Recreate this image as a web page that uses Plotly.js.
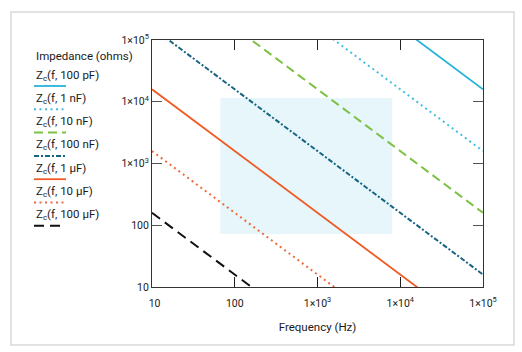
<!DOCTYPE html>
<html><head><meta charset="utf-8">
<script src="https://cdn.plot.ly/plotly-3.0.1.min.js"></script>
<style>html,body{margin:0;padding:0;background:#fff;}#chart{width:522px;height:352px;}</style>
</head><body><div id="chart"></div>
<script>
// Data: impedance at the ends of the frequency span
var freq = [10, 100000];
var seriesNames = ['Z<sub>c</sub>(f, 100 pF)','Z<sub>c</sub>(f, 1 nF)','Z<sub>c</sub>(f, 10 nF)','Z<sub>c</sub>(f, 100 nF)','Z<sub>c</sub>(f, 1 μF)','Z<sub>c</sub>(f, 10 μF)','Z<sub>c</sub>(f, 100 μF)'];
var z100pF = [1.59e8, 15900];
var z1nF = [1.59e7, 1590];
var z10nF = [1.59e6, 159];
var z100nF = [1.59e5, 15.9];
var z1uF = [15900, 1.59];
var z10uF = [1590, 0.159];
var z100uF = [159, 0.0159];
var seriesValues = [z100pF, z1nF, z10nF, z100nF, z1uF, z10uF, z100uF];
var colors = ['#25b3d9','#3fbfe2','#7cc143','#176483','#f05a24','#f26a3a','#111111'];
var dashes = ['solid','2px,3.5px','9px,5px','5px,2px,2px,2px','solid','2px,3.5px','10px,6px'];
var widths = [1.8,2,2,2,1.8,2,2];
// highlighted region
var regionX = [67, 8000];
var regionY = [72, 11500];
var xTickVals = [10,100,1000,10000,100000];
var xTickText = ['  10','100','1×10<sup>3</sup>','1×10<sup>4</sup>','1×10<sup>5</sup>'];
var yTickVals = [10,100,1000,10000,100000];
var yTickText = ['10','100','1×10<sup>3</sup>','1×10<sup>4</sup>','1×10<sup>5</sup>'];

var traces = seriesValues.map(function(v,i){
  return {x:freq, y:v, mode:'lines', name:seriesNames[i], showlegend:false,
    line:{color:colors[i], width:widths[i], dash:dashes[i]}};
});

var shapes = [
  {type:'rect', xref:'paper', yref:'paper', x0:(11-152)/331, x1:(514-152)/331, y0:(287-345)/247, y1:(287-12)/247,
   line:{color:'#d9d9d9', width:1.5}, fillcolor:'rgba(0,0,0,0)', layer:'below'},
  {type:'rect', xref:'x', yref:'y', x0:regionX[0], x1:regionX[1], y0:regionY[0], y1:regionY[1],
   line:{width:0}, fillcolor:'#e6f6fb', layer:'below'}
];
var annotations = [
  {text:'Impedance (ohms)', xref:'paper', yref:'paper', x:(34-152)/331, y:(287-56)/247,
   xanchor:'left', yanchor:'middle', showarrow:false, font:{size:11.5, color:'#1a1a1a'}}
];
var textY0 = 75, lineY0 = 86, step = 23.3;
seriesNames.forEach(function(n,i){
  annotations.push({text:n, xref:'paper', yref:'paper', x:(34-152)/331, y:(287-(textY0+i*step))/247,
    xanchor:'left', yanchor:'middle', showarrow:false, font:{size:11.5, color:'#1a1a1a'}});
  var ly = (287-(lineY0+i*step))/247;
  shapes.push({type:'line', xref:'paper', yref:'paper', x0:(34-152)/331, x1:(66-152)/331, y0:ly, y1:ly,
    line:{color:colors[i], width:widths[i], dash:dashes[i]}});
});

var layout = {
  width:522, height:352, margin:{l:152, r:39, t:40, b:65},
  paper_bgcolor:'#fff', plot_bgcolor:'rgba(0,0,0,0)',
  font:{family:'Roboto, sans-serif', size:10, color:'#1a1a1a'},
  showlegend:false,
  xaxis:{type:'log', range:[1,5], tickvals:xTickVals, ticktext:xTickText, ticks:'inside', ticklen:10,
    tickcolor:'#222', showline:true, linecolor:'#333', linewidth:1, mirror:'ticks', showgrid:false, zeroline:false,
    ticklabelstandoff:6,
    title:{text:'Frequency (Hz)', font:{size:11.5, color:'#1a1a1a'}, standoff:14}, tickfont:{size:10.5}},
  yaxis:{type:'log', range:[1,5], tickvals:yTickVals, ticktext:yTickText, ticks:'inside', ticklen:10,
    tickcolor:'#555', showline:true, linecolor:'#333', linewidth:1, mirror:'ticks', showgrid:false, zeroline:false,
    tickfont:{size:10.5}},
  shapes:shapes, annotations:annotations
};
Plotly.newPlot('chart', traces, layout, {staticPlot:true, displayModeBar:false});
</script></body></html>
